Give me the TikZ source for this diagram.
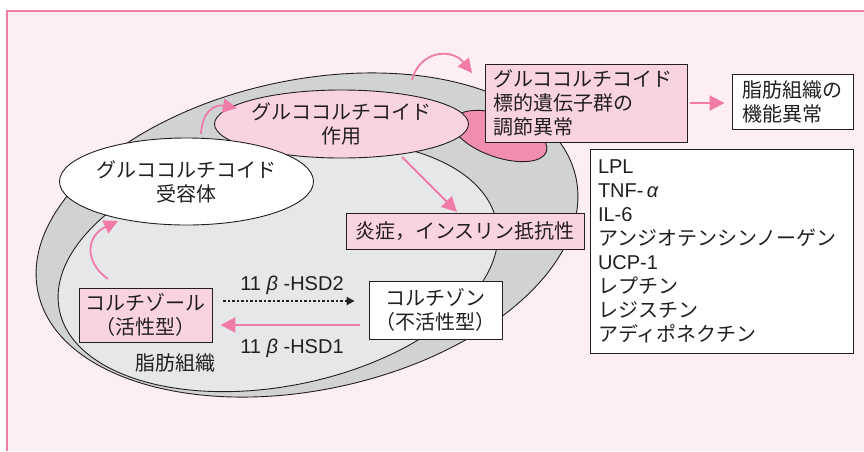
\documentclass[tikz,border=0pt]{standalone}
\usepackage{fontspec}
\setmainfont{Liberation Sans}
\newfontfamily\jp{Noto Sans CJK JP}
\newfontfamily\lat{Liberation Sans}
\usetikzlibrary{shapes.geometric,arrows.meta}
\definecolor{bgpink}{HTML}{FCEEF3}
\definecolor{borderpink}{HTML}{F07DA5}
\definecolor{outergray}{HTML}{D1D2D4}
\definecolor{innergray}{HTML}{E6E7E8}
\definecolor{boxpink}{HTML}{F9D3E1}
\definecolor{deeppink}{HTML}{F08DB1}
\definecolor{arrowpink}{HTML}{EF7BA6}
\definecolor{ink}{HTML}{231F20}
\begin{document}
\begin{tikzpicture}[x=1pt,y=-1pt,
  every node/.style={font=\fontsize{20}{24}\selectfont\jp, text=ink},
  outline/.style={draw=ink, line width=0.9pt},
  boxbase/.style={outline, rectangle, inner sep=0pt},
  pinkbox/.style={boxbase, fill=boxpink},
  whitebox/.style={boxbase, fill=white},
  pinkarrow/.style={draw=arrowpink, line width=2pt, -{Triangle[length=15pt,width=15pt]}, arrowpink},
  curvearrow/.style={draw=arrowpink, line width=1.8pt, -{Triangle[length=14pt,width=14pt]}, arrowpink},
  dotarrow/.style={draw=ink, line width=2.4pt, dash pattern=on 2.2pt off 2.3pt, -{Triangle[length=8pt,width=8pt]}, ink},
  lbl/.style={inner sep=0pt}
]
\useasboundingbox (0,0) rectangle (864,451);
\fill[white] (0,0) rectangle (864,451);
\fill[bgpink] (7,11) rectangle (864,451);
\draw[borderpink, line width=1.4pt] (864,11) -- (7,11) -- (7,451);

% tissue ellipses
\filldraw[fill=outergray, outline, rotate around={12:(307,235)}] (307,235) ellipse [x radius=275pt, y radius=155pt];
\filldraw[fill=innergray, outline, rotate around={11.4:(278,266)}] (278,266) ellipse [x radius=223pt, y radius=120pt];
\filldraw[fill=deeppink, outline, rotate around={-18.5:(500,136)}] (500,136) ellipse [x radius=49pt, y radius=21.5pt];

% ellipse nodes
\node[ellipse, outline, fill=boxpink, minimum width=213pt, minimum height=68pt, inner sep=0pt, align=center] (sayo) at (341.5,124) {グルココルチコイド\\作用};
\node[ellipse, outline, fill=white, minimum width=213pt, minimum height=87pt, inner sep=0pt, align=center] (juyou) at (186.5,181.5) {グルココルチコイド\\受容体};

% boxes
\node[pinkbox, minimum height=78pt, text width=186pt, inner xsep=8pt, align=left] (target) at (586,103) {グルココルチコイド\\標的遺伝子群の\\調節異常};
\node[whitebox, minimum height=55pt, text width=101pt, inner xsep=10pt, align=left] (dysfunc) at (792.5,101.5) {脂肪組織の\\機能異常};
\node[whitebox, minimum height=204pt, text width=247pt, inner xsep=8pt, align=left] (genes) at (721.5,251) {{\lat LPL}\\{\lat TNF-\,{\itshape α}}\\{\lat IL-6}\\アンジオテンシンノーゲン\\{\lat UCP-1}\\レプチン\\レジスチン\\アディポネクチン};
\node[pinkbox, minimum width=238pt, minimum height=36pt] (enshou) at (465,231) {炎症，インスリン抵抗性};
\node[pinkbox, minimum width=133pt, minimum height=54pt, align=center] (cortisol) at (145.5,315) {コルチゾール\\（活性型）};
\node[whitebox, minimum width=133pt, minimum height=58pt, align=center] (cortisone) at (435.5,310) {コルチゾン\\（不活性型）};

% labels
\node[lbl] (hsd2) at (292,285) {\lat 11 {\itshape β} -HSD2};
\node[lbl] (hsd1) at (292,348) {\lat 11 {\itshape β} -HSD1};
\node[lbl] (tissue) at (175,363) {脂肪組織};

% connector end points
\coordinate (c1s) at (108,279);
\coordinate (c1e) at (118,221);
\coordinate (c2s) at (201,134);
\coordinate (c2e) at (237,108);
\coordinate (c3s) at (412,80);
\coordinate (c3e) at (472,73);
\coordinate (c4s) at (402,157);
\coordinate (c4e) at (457,212);

% arrows
\draw[curvearrow] (c1s) .. controls (84,262) and (86,236) .. (c1e);
\draw[curvearrow] (c2s) .. controls (202,112) and (214,104) .. (c2e);
\draw[curvearrow] (c3s) .. controls (420,50) and (452,48) .. (c3e);
\draw[pinkarrow] (c4s) -- (c4e);
\draw[pinkarrow, shorten <=3pt, shorten >=7pt] (target.east) -- (target.east -| dysfunc.west);
\draw[dotarrow, shorten <=11pt, shorten >=14pt] ([yshift=14pt]cortisol.east) -- ([yshift=14pt]cortisol.east -| cortisone.west);
\draw[pinkarrow, shorten <=9pt, shorten >=8pt] ([yshift=-15pt]cortisone.west) -- ([yshift=-15pt]cortisone.west -| cortisol.east);
\end{tikzpicture}
\end{document}
